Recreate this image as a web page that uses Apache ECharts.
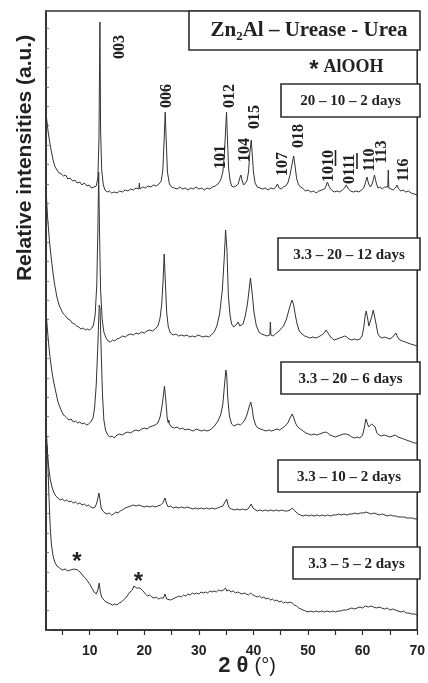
<!DOCTYPE html>
<html><head><meta charset="utf-8">
<script src="https://cdn.jsdelivr.net/npm/echarts@6/dist/echarts.min.js"></script>
<style>html,body{margin:0;padding:0;background:#fff}#c{width:428px;height:683px}</style>
</head><body><div id="c"></div>
<script>
// x = 2θ (°), y = relative intensity (a.u., stacked offsets included)
const trace_20_10_2 = [[2.1,512],[2.4,498],[2.7,487],[3.0,478],[3.3,470],[3.6,464],[4.0,460],[4.4,457],[4.8,456],[5.2,454],[5.6,455],[6.0,451],[6.4,452],[6.9,449],[7.3,450],[7.7,447],[8.2,448],[8.6,445],[9.0,447],[9.5,444],[9.9,445],[10.3,442],[10.8,443],[11.2,444],[11.5,452],[11.7,490],[11.88,608],[12.0,500],[12.2,460],[12.5,445],[12.8,440],[13.2,438],[13.6,439],[14.0,437],[14.5,438],[15.0,437],[15.5,439],[16.0,438],[16.5,440],[17.0,439],[17.5,441],[18.0,440],[18.5,442],[19.0,441],[19.1,447],[19.2,441],[19.7,443],[20.2,442],[20.7,444],[21.2,443],[21.7,445],[22.2,444],[22.7,446],[23.1,449],[23.4,460],[23.65,492],[23.84,518],[24.0,492],[24.25,458],[24.6,446],[25.0,443],[25.5,442],[26.0,441],[26.5,443],[27.0,441],[27.5,442],[28.0,440],[28.5,442],[29.0,441],[29.5,443],[30.0,441],[30.5,442],[31.0,440],[31.5,442],[32.0,441],[32.5,443],[33.0,444],[33.5,446],[34.0,450],[34.4,458],[34.7,478],[34.9,500],[35.07,518],[35.25,490],[35.45,462],[35.7,450],[36.0,444],[36.4,443],[36.8,444],[37.2,446],[37.5,452],[37.7,455],[37.9,450],[38.2,445],[38.5,445],[38.8,449],[39.1,458],[39.35,478],[39.6,490],[39.8,474],[40.0,458],[40.3,447],[40.7,443],[41.2,442],[41.7,441],[42.2,442],[42.7,440],[43.2,442],[43.7,441],[44.1,443],[44.4,446],[44.7,442],[45.1,441],[45.5,443],[45.9,444],[46.3,447],[46.7,455],[47.0,464],[47.37,474],[47.6,465],[47.9,452],[48.2,446],[48.6,443],[49.0,442],[49.5,439],[50.0,440],[50.5,438],[51.0,439],[51.5,437],[52.0,439],[52.5,440],[53.0,441],[53.3,444],[53.56,448],[53.9,443],[54.3,440],[54.8,438],[55.3,439],[55.8,438],[56.3,440],[56.7,442],[57.0,445],[57.4,441],[57.8,439],[58.3,438],[58.8,439],[59.3,438],[59.8,440],[60.2,442],[60.5,447],[60.8,453],[61.1,446],[61.45,443],[61.8,447],[62.17,455],[62.5,447],[62.8,442],[63.2,443],[63.6,441],[64.0,443],[64.3,441],[64.6,443],[64.7,460],[64.8,442],[65.2,441],[65.6,440],[66.0,442],[66.3,445],[66.6,441],[67.0,439],[67.4,440],[67.9,438],[68.4,439],[68.9,437],[69.4,436],[70.0,435]];

const trace_33_20_12 = [[2.1,432],[2.3,412],[2.5,398],[2.7,385],[3.0,370],[3.3,356],[3.6,345],[4.0,333],[4.4,325],[4.8,320],[5.2,316],[5.6,314],[6.0,311],[6.4,310],[6.8,307],[7.2,306],[7.6,304],[8.0,303],[8.4,301],[8.8,302],[9.2,300],[9.6,301],[10.0,300],[10.4,302],[10.7,305],[11.0,315],[11.3,345],[11.5,400],[11.65,458],[11.8,400],[12.0,340],[12.3,310],[12.6,298],[13.0,292],[13.4,289],[13.8,288],[14.2,290],[14.6,289],[15.0,291],[15.5,292],[16.0,294],[16.5,293],[17.0,295],[17.5,296],[18.0,295],[18.5,297],[19.0,296],[19.5,298],[20.0,297],[20.5,299],[21.0,300],[21.5,299],[22.0,301],[22.5,304],[22.9,312],[23.2,326],[23.45,350],[23.65,376],[23.85,350],[24.1,318],[24.4,303],[24.8,297],[25.3,295],[25.8,296],[26.3,294],[26.8,295],[27.3,294],[27.8,295],[28.3,293],[28.8,294],[29.3,293],[29.8,295],[30.3,294],[30.8,293],[31.3,294],[31.8,293],[32.3,295],[32.8,298],[33.3,304],[33.8,316],[34.3,340],[34.65,372],[34.9,400],[35.0,402],[35.15,380],[35.4,335],[35.7,315],[36.0,306],[36.4,303],[36.8,305],[37.2,308],[37.5,304],[37.8,302],[38.1,306],[38.5,314],[38.9,326],[39.2,340],[39.45,352],[39.6,350],[39.8,335],[40.1,318],[40.5,305],[41.0,298],[41.5,296],[42.0,295],[42.5,294],[43.0,295],[43.1,308],[43.2,295],[43.6,294],[44.0,296],[44.5,298],[45.0,301],[45.5,304],[46.0,310],[46.4,318],[46.8,326],[47.1,330],[47.4,324],[47.7,314],[48.0,306],[48.4,299],[48.9,296],[49.4,294],[49.9,293],[50.4,292],[50.9,293],[51.4,292],[51.9,293],[52.5,295],[53.0,297],[53.3,300],[53.6,299],[53.9,295],[54.3,292],[54.8,290],[55.3,291],[55.8,292],[56.3,293],[56.7,294],[57.1,293],[57.5,291],[58.0,290],[58.5,291],[59.0,290],[59.5,291],[59.9,294],[60.2,302],[60.45,314],[60.65,319],[60.9,312],[61.15,304],[61.4,306],[61.7,314],[61.95,320],[62.2,318],[62.5,305],[62.8,296],[63.2,293],[63.6,292],[64.0,293],[64.5,292],[65.0,291],[65.5,293],[65.8,295],[66.1,297],[66.4,293],[66.8,290],[67.3,289],[67.8,288],[68.3,287],[68.8,286],[69.4,285],[70.0,284]];

const trace_33_20_6 = [[2.1,312],[2.3,298],[2.5,285],[2.8,270],[3.1,258],[3.4,248],[3.8,238],[4.2,228],[4.6,222],[5.0,217],[5.4,214],[5.8,212],[6.2,210],[6.6,211],[7.0,208],[7.4,209],[7.8,207],[8.2,208],[8.6,206],[9.0,207],[9.4,205],[9.8,206],[10.2,208],[10.6,212],[10.9,222],[11.2,245],[11.5,285],[11.75,325],[11.9,322],[12.1,280],[12.35,235],[12.6,210],[12.9,200],[13.3,195],[13.7,193],[14.1,194],[14.5,192],[15.0,195],[15.5,196],[16.0,195],[16.5,197],[17.0,198],[17.5,197],[18.0,199],[18.5,200],[19.0,199],[19.5,201],[20.0,202],[20.5,201],[21.0,203],[21.5,204],[22.0,205],[22.5,207],[22.9,213],[23.2,222],[23.45,232],[23.7,244],[23.95,230],[24.2,212],[24.4,207],[24.5,210],[24.6,206],[25.0,203],[25.5,202],[26.0,203],[26.5,201],[27.0,202],[27.5,200],[28.0,201],[28.5,200],[29.0,199],[29.5,201],[30.0,200],[30.5,199],[31.0,200],[31.5,199],[32.0,200],[32.5,202],[33.0,205],[33.5,209],[34.0,215],[34.4,226],[34.7,245],[34.95,260],[35.1,255],[35.3,232],[35.6,214],[36.0,206],[36.4,204],[36.8,205],[37.2,206],[37.6,205],[38.0,207],[38.4,210],[38.8,215],[39.15,222],[39.5,228],[39.75,222],[40.0,212],[40.4,205],[40.8,202],[41.3,201],[41.8,200],[42.3,199],[42.8,200],[43.3,199],[43.8,200],[44.3,201],[44.8,200],[45.3,202],[45.8,204],[46.3,207],[46.7,212],[47.1,216],[47.4,212],[47.7,207],[48.1,203],[48.6,201],[49.1,199],[49.6,197],[50.1,196],[50.6,195],[51.1,196],[51.6,195],[52.1,196],[52.6,197],[53.2,198],[53.6,197],[54.0,195],[54.5,194],[55.0,193],[55.5,194],[56.0,195],[56.5,196],[57.0,196],[57.5,195],[58.0,193],[58.5,192],[59.0,193],[59.5,192],[60.0,195],[60.3,202],[60.6,211],[60.8,209],[61.1,203],[61.35,202],[61.65,206],[61.95,208],[62.3,203],[62.6,197],[63.0,195],[63.5,194],[64.0,195],[64.5,194],[65.0,193],[65.5,194],[66.0,195],[66.5,193],[67.0,192],[67.5,191],[68.0,190],[68.5,189],[69.0,188],[69.5,187],[70.0,187]];

const trace_33_10_2 = [[2.1,196],[2.25,180],[2.4,168],[2.6,158],[2.8,150],[3.1,143],[3.4,138],[3.8,134],[4.2,132],[4.6,130],[5.0,131],[5.4,129],[5.8,130],[6.2,128],[6.6,129],[7.0,127],[7.4,128],[7.8,126],[8.2,127],[8.6,125],[9.0,126],[9.4,124],[9.8,125],[10.2,123],[10.6,122],[11.0,123],[11.3,127],[11.5,132],[11.7,137],[11.9,130],[12.1,122],[12.4,119],[12.8,117],[13.2,116],[13.6,117],[14.0,115],[14.4,116],[14.8,118],[15.2,117],[15.6,119],[16.0,120],[16.5,122],[17.0,123],[17.5,124],[18.0,125],[18.5,124],[19.0,125],[19.5,124],[20.0,123],[20.5,124],[21.0,123],[21.5,124],[22.0,123],[22.5,124],[23.0,125],[23.4,127],[23.8,132],[24.1,126],[24.4,123],[24.8,124],[25.3,122],[25.8,123],[26.3,122],[26.8,123],[27.1,125],[27.4,122],[27.9,123],[28.4,122],[28.9,121],[29.4,122],[29.9,121],[30.4,122],[30.9,121],[31.4,122],[31.9,121],[32.4,122],[32.9,121],[33.4,122],[33.9,123],[34.4,124],[34.8,128],[35.1,131],[35.3,126],[35.6,122],[36.0,121],[36.5,120],[37.0,121],[37.5,120],[38.0,121],[38.5,120],[39.0,121],[39.3,123],[39.6,126],[39.9,122],[40.2,120],[40.7,119],[41.2,120],[41.7,119],[42.2,120],[42.7,119],[43.2,120],[43.7,119],[44.2,120],[44.7,119],[45.2,120],[45.7,119],[46.2,119],[46.7,120],[47.1,122],[47.4,120],[47.8,118],[48.2,116],[48.6,115],[49.1,114],[49.6,115],[50.1,114],[50.6,115],[51.1,114],[51.6,115],[52.1,114],[52.6,115],[53.1,114],[53.6,115],[54.1,114],[54.6,115],[55.1,115],[55.6,116],[56.1,115],[56.6,116],[57.1,115],[57.6,116],[58.1,116],[58.6,117],[59.1,116],[59.6,117],[60.1,117],[60.6,118],[61.1,117],[61.6,116],[62.1,117],[62.6,116],[63.1,115],[63.6,116],[64.1,115],[64.6,114],[65.1,115],[65.6,114],[66.1,114],[66.6,113],[67.1,113],[67.6,113],[68.1,112],[68.6,112],[69.1,112],[69.6,111],[70.0,111]];

const trace_33_5_2 = [[2.2,185],[2.35,165],[2.5,140],[2.65,118],[2.8,100],[3.0,85],[3.3,74],[3.6,68],[4.0,64],[4.5,62],[5.0,60],[5.5,61],[6.0,59],[6.5,60],[6.8,58],[7.1,61],[7.4,59],[7.8,60],[8.1,58],[8.4,57],[8.8,54],[9.2,52],[9.6,49],[10.0,46],[10.4,42],[10.8,38],[11.2,36],[11.5,40],[11.75,47],[11.95,38],[12.2,33],[12.6,30],[13.0,28],[13.4,27],[13.8,26],[14.2,25],[14.6,26],[15.0,25],[15.4,27],[15.8,28],[16.2,30],[16.6,32],[17.0,35],[17.4,38],[17.8,40],[18.1,44],[18.3,43],[18.6,42],[18.9,43],[19.2,42],[19.5,41],[19.8,39],[20.2,36],[20.6,34],[21.0,35],[21.4,33],[21.8,32],[22.2,33],[22.6,31],[23.0,32],[23.5,32],[23.8,36],[24.1,31],[24.4,29],[24.8,30],[25.2,31],[25.6,32],[26.0,33],[26.4,34],[26.8,33],[27.2,35],[27.6,34],[28.0,36],[28.4,35],[28.8,37],[29.2,36],[29.6,37],[30.0,36],[30.4,38],[30.8,37],[31.2,38],[31.6,37],[32.0,39],[32.4,38],[32.8,39],[33.2,38],[33.6,40],[34.0,39],[34.5,40],[34.9,42],[35.1,39],[35.5,40],[35.9,38],[36.3,39],[36.7,37],[37.1,38],[37.5,37],[37.9,36],[38.3,37],[38.7,36],[39.1,35],[39.5,37],[39.9,35],[40.3,34],[40.7,33],[41.1,34],[41.5,32],[41.9,33],[42.3,31],[42.7,32],[43.1,30],[43.5,31],[43.9,29],[44.3,30],[44.7,28],[45.1,29],[45.5,27],[45.9,28],[46.3,27],[46.7,28],[47.1,27],[47.5,25],[47.9,24],[48.3,22],[48.7,21],[49.1,20],[49.5,19],[50.0,18],[50.5,19],[51.0,18],[51.5,19],[52.0,18],[52.5,19],[53.0,18],[53.5,19],[54.0,18],[54.5,19],[55.0,18],[55.5,19],[56.0,19],[56.5,20],[57.0,20],[57.5,21],[58.0,22],[58.5,21],[59.0,22],[59.5,23],[60.0,22],[60.5,24],[60.8,26],[61.1,23],[61.5,24],[62.0,23],[62.5,22],[63.0,23],[63.5,22],[64.0,21],[64.5,22],[65.0,20],[65.5,21],[66.0,20],[66.5,19],[67.0,18],[67.5,19],[68.0,17],[68.5,17],[69.0,16],[69.5,16],[70.0,15]];

const seriesNames = ['20 – 10 – 2 days','3.3 – 20 – 12 days','3.3 – 20 – 6 days','3.3 – 10 – 2 days','3.3 – 5 – 2 days'];
const seriesData = [trace_20_10_2, trace_33_20_12, trace_33_20_6, trace_33_10_2, trace_33_5_2];
const xTickValues = [5,10,15,20,25,30,35,40,45,50,55,60,65,70];
const xTickLabels = [10,20,30,40,50,60,70];
const peakLabels = ['003','006','012','015','101','104','107','018','1010','0111','110','113','116'];

const chart = echarts.init(document.getElementById('c'), null, {renderer: 'canvas'});
const INK = '#2e2e2e';
const serifB = 'bold 16px "Liberation Serif", "DejaVu Serif", serif';

// annotation layout (pixel)
const boxes = [
  {x1:281, y1:84,  x2:420, y2:117},
  {x1:278, y1:238, x2:420, y2:270},
  {x1:281, y1:362, x2:420, y2:394},
  {x1:278, y1:460, x2:420, y2:492},
  {x1:293, y1:547, x2:420, y2:579}
];
const peakPos = [[120,47],[167,96],[229.5,96],[254.5,117],[220.5,157],[244.5,150],[282.5,164],[298.5,136],[328.5,166],[350,169],[369.5,160],[382,152],[403.5,170]];

const graphic = [];
// title box
graphic.push({type:'rect', shape:{x:189, y:11, width:231, height:39}, style:{fill:'#fff', stroke:INK, lineWidth:1.6}, z:10});
graphic.push({type:'text', x:309, y:31, z:11, style:{
  text:'{a|Zn}{s|2}{a|Al – Urease - Urea}', align:'center', verticalAlign:'middle',
  rich:{a:{font:'bold 21px "Liberation Serif", serif', fill:'#222', lineHeight:24},
        s:{font:'bold 13px "Liberation Serif", serif', fill:'#222', lineHeight:14, verticalAlign:'bottom'}}
}});
graphic.push({type:'text', x:314, y:70, z:11, style:{text:'*', font:'bold 24px "Liberation Sans", sans-serif', fill:'#222', align:'center', verticalAlign:'middle'}});
graphic.push({type:'text', x:353.5, y:67, z:11, style:{text:'AlOOH', font:'bold 18px "Liberation Serif", serif', fill:'#222', align:'center', verticalAlign:'middle'}});
boxes.forEach((b,i)=>{
  graphic.push({type:'rect', shape:{x:b.x1, y:b.y1, width:b.x2-b.x1, height:b.y2-b.y1}, style:{fill:'#fff', stroke:INK, lineWidth:1.6}, z:10});
  graphic.push({type:'text', x:(b.x1+b.x2)/2, y:(b.y1+b.y2)/2+1, z:11, style:{text:seriesNames[i], font:'bold 15px "Liberation Serif", serif', fill:'#222', align:'center', verticalAlign:'middle'}});
});
peakLabels.forEach((t,i)=>{
  graphic.push({type:'text', x:peakPos[i][0], y:peakPos[i][1], rotation:Math.PI/2, z:11, style:{text:t, font:serifB, fill:'#222', align:'center', verticalAlign:'middle'}});
});
// overbars (hkl notation) on last two digits of 1010 and 0111
graphic.push({type:'line', z:11, shape:{x1:335.5, y1:150, x2:335.5, y2:166}, style:{stroke:'#222', lineWidth:1.6}});
graphic.push({type:'line', z:11, shape:{x1:357, y1:153, x2:357, y2:169}, style:{stroke:'#222', lineWidth:1.6}});
// AlOOH asterisks on the bottom trace
graphic.push({type:'text', x:77, y:562, z:11, style:{text:'*', font:'bold 24px "Liberation Sans", sans-serif', fill:'#222', align:'center', verticalAlign:'middle'}});
graphic.push({type:'text', x:138.5, y:582, z:11, style:{text:'*', font:'bold 24px "Liberation Sans", sans-serif', fill:'#222', align:'center', verticalAlign:'middle'}});
// axis titles
graphic.push({type:'text', x:247, y:666, z:11, style:{
  text:'{b|2 θ }{n|(°)}', align:'center', verticalAlign:'middle',
  rich:{b:{font:'bold 22px "Liberation Sans", sans-serif', fill:'#222'}, n:{font:'20px "Liberation Sans", sans-serif', fill:'#222'}}
}});
graphic.push({type:'text', x:25, y:158, rotation:Math.PI/2, z:11, style:{text:'Relative intensities (a.u.)', font:'bold 21px "Liberation Sans", sans-serif', fill:'#222', align:'center', verticalAlign:'middle'}});

chart.setOption({
  animation:false,
  backgroundColor:'#fff',
  grid:{left:46, right:8, top:11, bottom:53, show:true, borderColor:INK, borderWidth:1.6, backgroundColor:'transparent'},
  xAxis:{type:'value', min:2, max:70,
    axisLine:{show:true, onZero:false, lineStyle:{color:INK, width:1.6}},
    axisTick:{show:true, inside:false, length:5, customValues:xTickValues, lineStyle:{color:INK, width:1.2}},
    axisLabel:{show:true, customValues:xTickLabels, margin:14, color:'#222', fontWeight:'bold', fontSize:14, fontFamily:'"Liberation Sans", sans-serif'},
    splitLine:{show:false}},
  yAxis:{type:'value', min:0, max:619, interval:19.4,
    axisLine:{show:true, lineStyle:{color:INK, width:1.6}},
    axisTick:{show:true, inside:true, length:3, lineStyle:{color:'#666', width:0.8}},
    axisLabel:{show:false}, splitLine:{show:false}},
  series: seriesData.map((d,i)=>({name:seriesNames[i], type:'line', data:d, showSymbol:false, symbol:'none', smooth:false,
    lineStyle:{color:'#333', width:1}, z:2})),
  graphic: graphic
});
</script></body></html>
